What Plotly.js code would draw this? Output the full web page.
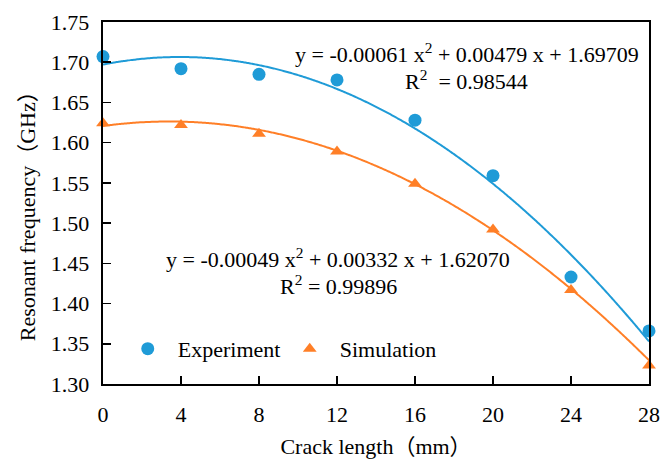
<!DOCTYPE html>
<html>
<head>
<meta charset="utf-8">
<script src="https://cdn.plot.ly/plotly-3.0.1.min.js"></script>
<style>html,body{margin:0;padding:0;background:#fff;}#chart{width:662px;height:459px;}</style>
</head>
<body>
<div id="chart"></div>
<script>
var crackLength = [0, 4, 8, 12, 16, 20, 24, 28];
var experiment = [1.707, 1.692, 1.685, 1.678, 1.628, 1.559, 1.433, 1.366];
var simulation = [1.624, 1.622, 1.611, 1.589, 1.549, 1.492, 1.417, 1.323];
var expFit = [-0.00061, 0.00479, 1.69709];
var simFit = [-0.00049, 0.00332, 1.62070];
var xTicks = [0, 4, 8, 12, 16, 20, 24, 28];

var blue = '#1f9bd7';
var orange = '#ff7f27';
var serif = 'Times New Roman, Liberation Serif, DejaVu Serif, Noto Serif, Noto Sans CJK SC, serif';
var fs = 22;

function fitCurve(c) {
  var xs = [], ys = [];
  for (var i = 0; i <= 280; i++) {
    var x = i * 0.1;
    xs.push(x);
    ys.push(c[0] * x * x + c[1] * x + c[2]);
  }
  return {x: xs, y: ys};
}
var ef = fitCurve(expFit), sf = fitCurve(simFit);

var traces = [
  {x: ef.x, y: ef.y, mode: 'lines', line: {color: blue, width: 2, simplify: false, shape: 'spline'}, showlegend: false, hoverinfo: 'skip'},
  {x: sf.x, y: sf.y, mode: 'lines', line: {color: orange, width: 2, simplify: false, shape: 'spline'}, showlegend: false, hoverinfo: 'skip'},
  {x: crackLength, y: experiment, mode: 'markers', name: 'Experiment',
   marker: {symbol: 'circle', size: 13, color: blue}, cliponaxis: false},
  {x: crackLength, y: simulation, mode: 'markers', name: 'Simulation',
   marker: {symbol: 'triangle-up', size: 12, color: orange}, cliponaxis: false}
];

var layout = {
  width: 662, height: 459,
  margin: {l: 103, r: 13, t: 22, b: 75},
  paper_bgcolor: '#fff', plot_bgcolor: '#fff',
  font: {family: serif, size: fs, color: '#000'},
  xaxis: {
    range: [0, 28], tickvals: xTicks, ticktext: xTicks.map(String),
    ticks: 'inside', ticklen: 8, tickwidth: 1.5, tickcolor: '#000',
    showline: true, linecolor: '#000', linewidth: 2, mirror: true,
    showgrid: false, zeroline: false, ticklabelstandoff: 10,
    tickfont: {family: serif, size: fs},
    title: {text: 'Crack length（mm）', font: {family: serif, size: fs}, standoff: 20}
  },
  yaxis: {
    range: [1.30, 1.75], dtick: 0.05, tick0: 1.30, tickformat: '.2f',
    ticksuffix: '\u00a0\u200a',
    ticks: 'inside', ticklen: 8, tickwidth: 1.5, tickcolor: '#000',
    showline: true, linecolor: '#000', linewidth: 2, mirror: true,
    showgrid: false, zeroline: false,
    tickfont: {family: serif, size: fs}
  },
  legend: {
    orientation: 'h', x: 0.027, y: 0.097, xanchor: 'left', yanchor: 'middle',
    bgcolor: 'rgba(0,0,0,0)', font: {family: serif, size: fs},
    itemwidth: 50, entrywidth: 97, entrywidthmode: 'pixels'
  },
  annotations: [
    {xref: 'paper', yref: 'paper', x: -0.137, y: 0.478, xanchor: 'center', yanchor: 'middle', showarrow: false,
     textangle: -90, text: 'Resonant frequency（GHz）', font: {family: serif, size: fs}},
    {xref: 'paper', yref: 'paper', x: 0.666, y: 0.914, xanchor: 'center', yanchor: 'middle', showarrow: false,
     text: 'y = -0.00061 x<sup>2</sup> + 0.00479 x + 1.69709', font: {family: serif, size: fs}},
    {xref: 'paper', yref: 'paper', x: 0.666, y: 0.840, xanchor: 'center', yanchor: 'middle', showarrow: false,
     text: 'R<sup>2</sup>  = 0.98544', font: {family: serif, size: fs}},
    {xref: 'paper', yref: 'paper', x: 0.431, y: 0.348, xanchor: 'center', yanchor: 'middle', showarrow: false,
     text: 'y = -0.00049 x<sup>2</sup> + 0.00332 x + 1.62070', font: {family: serif, size: fs}},
    {xref: 'paper', yref: 'paper', x: 0.431, y: 0.2735, xanchor: 'center', yanchor: 'middle', showarrow: false,
     text: 'R<sup>2</sup> = 0.99896', font: {family: serif, size: fs}}
  ]
};

Plotly.newPlot('chart', traces, layout, {displayModeBar: false, staticPlot: true});
</script>
</body>
</html>
